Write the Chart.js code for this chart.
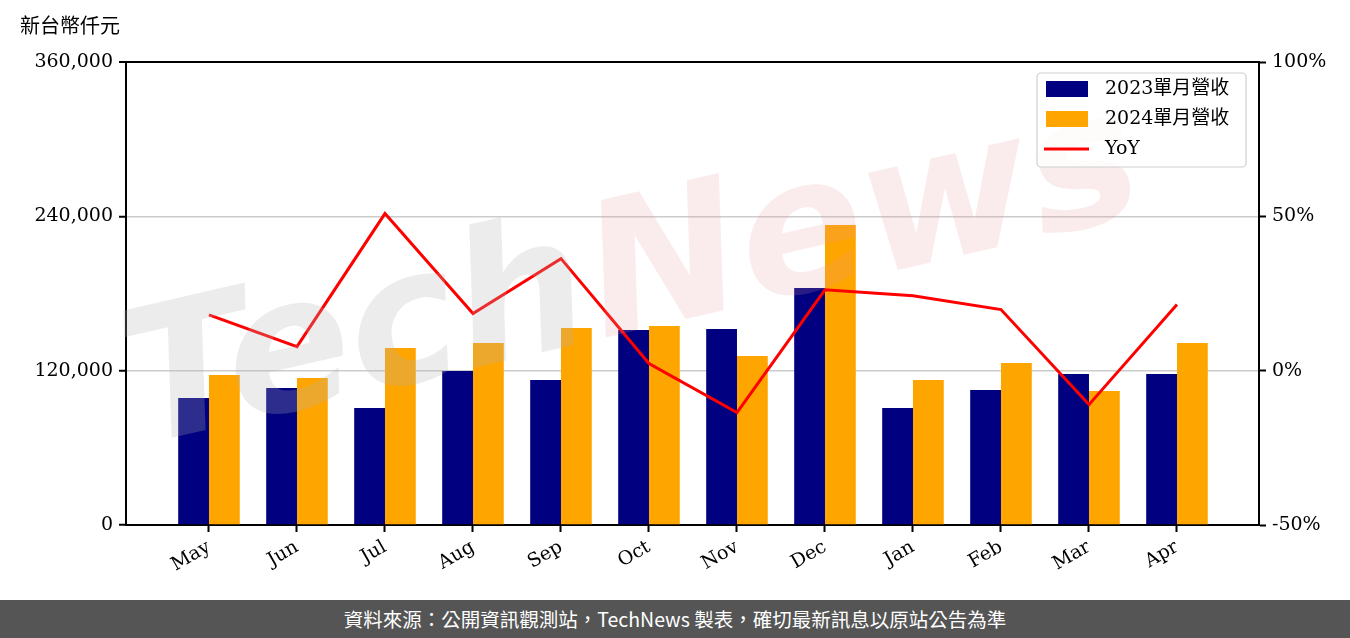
<!DOCTYPE html>
<html>
<head>
<meta charset="utf-8">
<script src="https://cdn.jsdelivr.net/npm/chart.js@4.4.0/dist/chart.umd.min.js"></script>
<style>
  html, body { margin: 0; padding: 0; background: #fff; }
  #wrap { position: relative; width: 1350px; height: 600px; }
  #footer {
    width: 1350px; height: 38px; background: #555555; color: #fff;
    font-family: "Noto Sans CJK TC", "Noto Sans", sans-serif; font-size: 19.5px;
    text-align: center; line-height: 38px;
  }
</style>
</head>
<body>
<div id="wrap"><canvas id="revChart" width="1350" height="600"></canvas></div>
<div id="footer">資料來源：公開資訊觀測站，TechNews 製表，確切最新訊息以原站公告為準</div>
<script>
// month labels and values (新台幣仟元)
const months = ['May', 'Jun', 'Jul', 'Aug', 'Sep', 'Oct', 'Nov', 'Dec', 'Jan', 'Feb', 'Mar', 'Apr'];
const rev2023 = [98700, 106500, 91000, 119700, 112700, 151600, 152400, 184300, 91000, 105000, 117400, 117400];
const rev2024 = [116600, 114300, 137600, 141500, 153200, 154700, 131400, 233300, 112700, 126000, 104200, 141500];
const yoy = [18.1, 7.8, 50.9, 18.5, 36.3, 2.3, -13.6, 26.2, 24.3, 19.8, -11.0, 21.4];
const leftTicks = [0, 120000, 240000, 360000];
const rightTicks = [-50, 0, 50, 100];

const serif = '"DejaVu Serif", "Noto Sans CJK TC", serif';

function toPoints(arr) {
    return arr.map((v, i) => ({ x: i, y: v }));
}

// watermark, drawn over the bars like the original
const watermark = {
    id: 'watermark',
    afterDatasetsDraw(chart) {
        const c = chart.ctx;
        c.save();
        c.translate(140, 445);
        c.rotate(-13 * Math.PI / 180);
        c.font = 'italic bold 185px "DejaVu Sans", sans-serif';
        c.textBaseline = 'alphabetic';
        c.fillStyle = 'rgba(180,180,180,0.25)';
        c.fillText('Tech', 0, 0);
        const w = c.measureText('Tech').width;
        c.fillStyle = 'rgba(230,150,150,0.18)';
        c.fillText('News', w + 5, 0);
        c.restore();
    }
};

// y-axis unit and legend box inside the plot
const extras = {
    id: 'extras',
    afterDraw(chart) {
        const c = chart.ctx;
        c.save();
        c.font = '20px ' + serif;
        c.fillStyle = '#000';
        c.textBaseline = 'middle';
        c.textAlign = 'left';
        c.fillText('新台幣仟元', 20, 28);

        const bx = 1037, by = 73, bw = 209, bh = 94;
        c.fillStyle = 'rgba(255,255,255,0.8)';
        c.strokeStyle = '#d0d0d0';
        c.lineWidth = 1.2;
        c.beginPath();
        c.roundRect(bx, by, bw, bh, 4);
        c.fill();
        c.stroke();

        c.font = '19px ' + serif;
        chart.data.datasets.forEach((ds, i) => {
            const cy = by + 16 + i * 30;
            if (ds.type === 'line') {
                c.strokeStyle = ds.borderColor;
                c.lineWidth = 3;
                c.beginPath();
                c.moveTo(bx + 7, cy);
                c.lineTo(bx + 52, cy);
                c.stroke();
            } else {
                c.fillStyle = ds.backgroundColor;
                c.fillRect(bx + 9, cy - 8, 42, 16);
            }
            c.fillStyle = '#000';
            c.fillText(ds.label, bx + 68, cy);
        });
        c.restore();
    }
};

const ctx = document.getElementById('revChart').getContext('2d');
const revChart = new Chart(ctx, {
    data: {
        datasets: [
            {
                type: 'bar', label: '2023單月營收', data: toPoints(rev2023),
                backgroundColor: '#000080', yAxisID: 'y', order: 2,
                categoryPercentage: 0.7, barPercentage: 1.0
            },
            {
                type: 'bar', label: '2024單月營收', data: toPoints(rev2024),
                backgroundColor: '#FFA500', yAxisID: 'y', order: 2,
                categoryPercentage: 0.7, barPercentage: 1.0
            },
            {
                type: 'line', label: 'YoY', data: toPoints(yoy),
                borderColor: '#FF0000', borderWidth: 3, pointRadius: 0,
                yAxisID: 'y2', order: 1, tension: 0
            }
        ]
    },
    options: {
        responsive: false,
        animation: false,
        layout: { padding: { top: 62, left: 0, right: 0, bottom: 0 } },
        plugins: { legend: { display: false }, tooltip: { enabled: false } },
        scales: {
            x: {
                type: 'linear',
                offset: false,
                min: -0.943,
                max: 11.932,
                afterBuildTicks: (scale) => { scale.ticks = months.map((m, i) => ({ value: i })); },
                afterFit: (scale) => { scale.height = 75; },
                ticks: {
                    callback: (v) => months[v],
                    font: { family: serif, size: 19 },
                    color: '#000',
                    minRotation: 30, maxRotation: 30,
                    padding: 4
                },
                grid: { offset: false, drawOnChartArea: false, tickLength: 7, tickColor: '#000', tickWidth: 2 },
                border: { color: '#000', width: 2 }
            },
            y: {
                position: 'left',
                min: 0, max: 360000,
                afterBuildTicks: (scale) => { scale.ticks = leftTicks.map(v => ({ value: v })); },
                afterFit: (scale) => { scale.width = 126; },
                ticks: {
                    callback: (v) => v.toLocaleString('en-US'),
                    font: { family: serif, size: 19 },
                    color: '#000',
                    padding: 6
                },
                grid: {
                    color: (c) => (c.tick && c.tick.value === 360000) ? '#000' : (c.tick && c.tick.value === 0 ? 'transparent' : '#cccccc'),
                    lineWidth: (c) => (c.tick && c.tick.value === 360000) ? 2 : 1.5,
                    tickLength: 7, tickColor: '#000', tickWidth: 2
                },
                border: { color: '#000', width: 2 }
            },
            y2: {
                position: 'right',
                min: -50, max: 100,
                afterBuildTicks: (scale) => { scale.ticks = rightTicks.map(v => ({ value: v })); },
                afterFit: (scale) => { scale.width = 91; },
                ticks: {
                    callback: (v) => v + '%',
                    font: { family: serif, size: 19 },
                    color: '#000',
                    padding: 6
                },
                grid: { drawOnChartArea: false, tickLength: 7, tickColor: '#000', tickWidth: 2 },
                border: { color: '#000', width: 2 }
            }
        }
    },
    plugins: [watermark, extras]
});
</script>
</body>
</html>
